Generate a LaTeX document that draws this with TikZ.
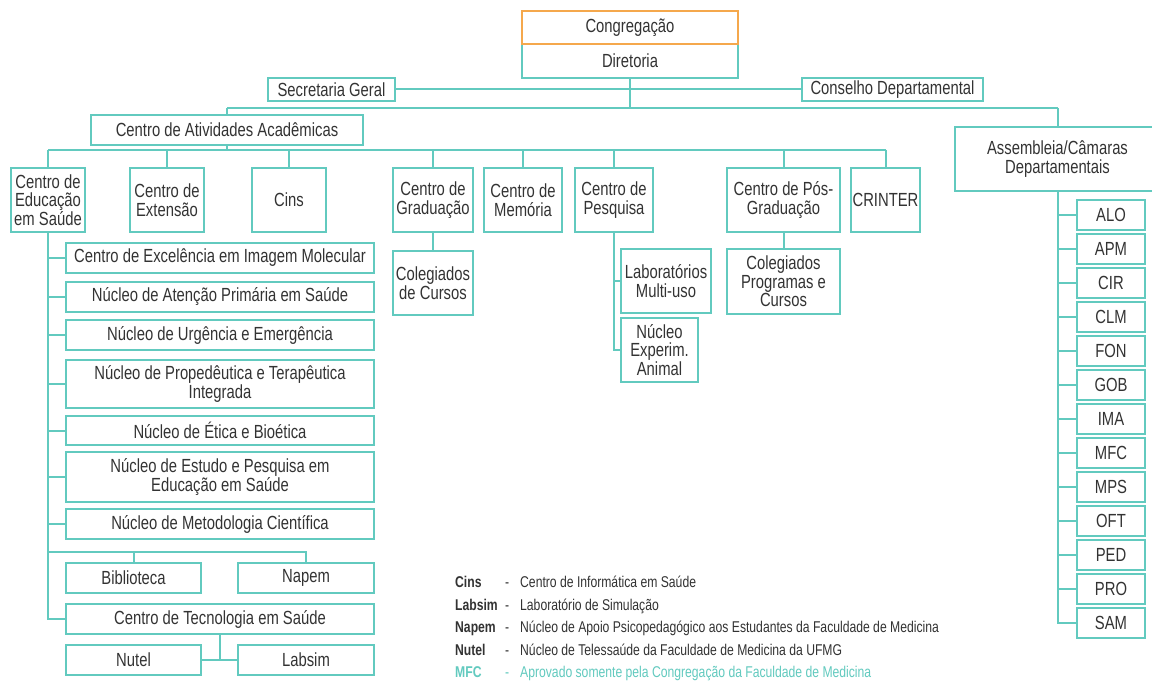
\documentclass[tikz,border=0pt]{standalone}
\usepackage{fontspec}
\setmainfont{Liberation Sans}[FakeStretch=0.78]
\definecolor{tl}{HTML}{62CABF}
\definecolor{og}{HTML}{F5A84C}
\definecolor{tx}{HTML}{333333}
\tikzset{
  box/.style={draw=tl, line width=2pt, fill=white, align=center, text=tx, inner sep=0pt,
    font={\fontsize{19}{18.5}\selectfont}},
  conn/.style={draw=tl, line width=2pt},
  leg/.style={anchor=base west, inner sep=0pt, text=tx, font={\fontsize{15.6}{15}\selectfont}},
  legb/.style={leg, font={\fontsize{15.6}{15}\selectfont\bfseries}},
}
\newcommand{\bx}[7][]{\node[box,#1, minimum width={(#4-#2)*1pt}, minimum height={(#5-#3)*1pt}] (#6) at ({(#2+#4)/2},{(#3+#5)/2}) {#7};}
\begin{document}
\begin{tikzpicture}[x=1pt,y=-1pt]
\clip (0,0) rectangle (1152,682);
\fill[white] (0,0) rectangle (1152,682);
% coordinates for buses
\coordinate (b108L) at (227,108);
\coordinate (b108M) at (630,108);
\coordinate (b108R) at (1057.5,108);
\coordinate (b150L) at (48,150);
\coordinate (b150R) at (885.5,150);
\coordinate (b552) at (48,552);
% top
\bx{522}{44}{738}{78}{dir}{Diretoria}
\bx[draw=og]{522}{11}{738}{44}{cong}{Congregação}
\bx{268}{78}{395}{101}{sec}{Secretaria Geral}
\bx{802}{78}{983}{101}{cons}{Conselho Departamental}
\bx{91}{115}{363}{145}{caa}{Centro de Atividades Acadêmicas}
\bx{955}{127}{1160}{191}{asm}{Assembleia/Câmaras\\Departamentais}
% second row
\bx{11}{168}{85}{232}{ces}{Centro de\\Educação\\em Saúde}
\bx{130}{168}{204}{232}{cext}{Centro de\\Extensão}
\bx{252}{168}{326}{232}{cins}{Cins}
\bx{393}{168}{473}{232}{cgr}{Centro de\\Graduação}
\bx{484}{168}{562}{232}{cmem}{Centro de\\Memória}
\bx{575}{168}{653}{232}{cpq}{Centro de\\Pesquisa}
\bx{727}{168}{840}{232}{cpos}{Centro de Pós-\\Graduação}
\bx{851}{168}{920}{232}{crin}{CRINTER}
\bx{393}{251}{473}{315}{colc}{Colegiados\\de Cursos}
\bx{621}{249}{711}{313}{lab}{Laboratórios\\Multi-uso}
\bx{621}{318}{698}{382}{nea}{Núcleo\\Experim.\\Animal}
\bx{727}{249}{840}{314}{colp}{Colegiados\\Programas e\\Cursos}
% left column
\bx{66}{243}{374}{273}{cim}{Centro de Excelência em Imagem Molecular}
\bx{66}{282}{374}{312}{nap}{Núcleo de Atenção Primária em Saúde}
\bx{66}{320}{374}{350}{nue}{Núcleo de Urgência e Emergência}
\bx{66}{360}{374}{408}{npt}{Núcleo de Propedêutica e Terapêutica\\Integrada}
\bx{66}{416}{374}{445}{net}{Núcleo de Ética e Bioética}
\bx{66}{452}{374}{502}{nep}{Núcleo de Estudo e Pesquisa em\\Educação em Saúde}
\bx{66}{509}{374}{539}{nmc}{Núcleo de Metodologia Científica}
\bx{66}{563}{201}{593}{bib}{Biblioteca}
\bx{238}{563}{374}{593}{napem}{Napem}
\bx{66}{604}{374}{634}{cts}{Centro de Tecnologia em Saúde}
\bx{66}{645}{201}{675}{nut}{Nutel}
\bx{238}{645}{374}{675}{labs}{Labsim}
% departments
\foreach \d [count=\i from 0] in {ALO,APM,CIR,CLM,FON,GOB,IMA,MFC,MPS,OFT,PED,PRO,SAM}{
  \pgfmathsetmacro{\ya}{200+34*\i}
  \pgfmathsetmacro{\yb}{230+34*\i}
  \bx{1077}{\ya}{1145}{\yb}{d\i}{\d}
}
% connectors
\draw[conn] (sec.east) -- (cons.west);
\draw[conn] (dir.south) -- (b108M);
\draw[conn] (b108L) -- (b108R);
\draw[conn] (b108L) -- (caa.north);
\draw[conn] (b108R) -- (asm.north);
\draw[conn] (caa.south) -- (caa.south |- b150L);
\draw[conn] (b150L) -- (b150R);
\foreach \n in {ces,cext,cins,cgr,cmem,cpq,cpos,crin}{
  \draw[conn] (\n.north |- b150L) -- (\n.north);
}
\draw[conn] (cgr.south) -- (colc.north);
\draw[conn] (cpos.south) -- (colp.north);
\draw[conn] (cpq.south) |- (nea.west);
\draw[conn] (cpq.south |- lab.west) -- (lab.west);
\draw[conn] (ces.south) |- (cts.west);
\foreach \n in {cim,nap,nue,npt,net,nep,nmc}{
  \draw[conn] (ces.south |- \n.west) -- (\n.west);
}
\draw[conn] (b552) -| (napem.north);
\draw[conn] (bib.north |- b552) -- (bib.north);
\draw[conn] (nut.east) -- (labs.west);
\draw[conn] (cts.south) -- (cts.south |- nut.east);
\draw[conn] (asm.south) |- (d12.west);
\foreach \i in {0,...,11}{
  \draw[conn] (asm.south |- d\i.west) -- (d\i.west);
}
% legend
\node[legb] (l1a) at (455,587) {Cins};
\node[leg] (l1b) at (505,587) {-};
\node[leg] (l1c) at (520,587) {Centro de Informática em Saúde};
\node[legb] (l2a) at (455,610) {Labsim};
\node[leg] (l2b) at (505,610) {-};
\node[leg] (l2c) at (520,610) {Laboratório de Simulação};
\node[legb] (l3a) at (455,632) {Napem};
\node[leg] (l3b) at (505,632) {-};
\node[leg] (l3c) at (520,632) {Núcleo de Apoio Psicopedagógico aos Estudantes da Faculdade de Medicina};
\node[legb] (l4a) at (455,655) {Nutel};
\node[leg] (l4b) at (505,655) {-};
\node[leg] (l4c) at (520,655) {Núcleo de Telessaúde da Faculdade de Medicina da UFMG};
\node[legb, text=tl] (l5a) at (455,677) {MFC};
\node[leg, text=tl] (l5b) at (505,677) {-};
\node[leg, text=tl] (l5c) at (520,677) {Aprovado somente pela Congregação da Faculdade de Medicina};
\end{tikzpicture}
\end{document}
